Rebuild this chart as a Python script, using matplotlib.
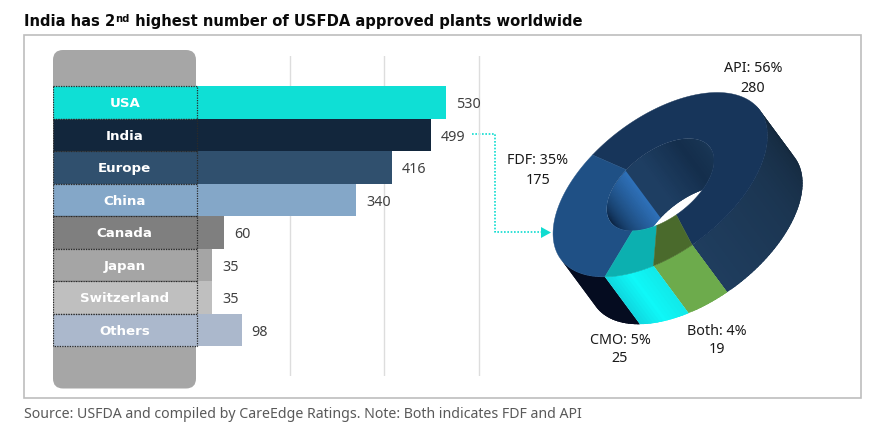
import numpy as np
import matplotlib
matplotlib.use("Agg")
import matplotlib.pyplot as plt
from matplotlib.patches import FancyBboxPatch, Polygon, Rectangle
from matplotlib.colors import to_rgb

plt.rcParams['font.family'] = ['Noto Sans', 'DejaVu Sans']
BOLD = ['DejaVu Sans']

# ---------- data ----------
categories = ["USA", "India", "Europe", "China", "Canada", "Japan", "Switzerland", "Others"]
plant_counts = [530, 499, 416, 340, 60, 35, 35, 98]
bar_colors = ["#0FDFD5", "#12263C", "#30506E", "#84A7C8", "#7F7F7F", "#A5A5A5", "#BFBFBF", "#ABB8CC"]
grid_ticks = [200, 400, 600]

pie_names = ["API", "FDF", "CMO", "Both"]
pie_shares = [56, 35, 5, 4]
pie_counts = [280, 175, 25, 19]
title_parts = ["India has 2", "nd", " highest number of USFDA approved plants worldwide"]
source_text = "Source: USFDA and compiled by CareEdge Ratings. Note: Both indicates FDF and API"

W, H = 893, 427
fig = plt.figure(figsize=(W / 100, H / 100), dpi=100, facecolor="white")

# ---------- pixel-space layer ----------
deco = fig.add_axes([0, 0, 1, 1], zorder=0)
deco.set_xlim(0, W)
deco.set_ylim(H, 0)
deco.axis("off")

deco.add_patch(Rectangle((24, 35.5), 837, 363, fc="white", ec="#BDBDBD", lw=1.2))
deco.add_patch(FancyBboxPatch((61, 59), 127, 322.5, boxstyle="round,pad=8,rounding_size=10",
                              fc="#A6A6A6", ec="none", zorder=1))

# title with a raised "nd"
fig.canvas.draw()
rend = fig.canvas.get_renderer()
x = 24
for part, size, y in zip(title_parts, [10.65, 7.2, 10.65], [26, 22, 26]):
    t = deco.text(x, y, part, fontsize=size, fontweight="bold", family=BOLD, color="#0A0A0A",
                  va="baseline", ha="left")
    x += t.get_window_extent(rend).width

deco.text(24, 418, source_text, fontsize=10.2, color="#595959", va="baseline", ha="left")

# ---------- bar chart ----------
PX_PER_UNIT = 0.4725
zero_px = 195.5
left_px, right_px = 53, 481
top_px, bottom_px = 57, 377
row_px = 32.5
bar_top_px = 87
ax = fig.add_axes([left_px / W, 1 - bottom_px / H, (right_px - left_px) / W, (bottom_px - top_px) / H], zorder=1)
ax.patch.set_visible(False)
x0 = -(zero_px - left_px) / PX_PER_UNIT
ax.set_xlim(x0, (right_px - zero_px) / PX_PER_UNIT)
ax.set_ylim(-0.5 + (bottom_px - bar_top_px) / row_px, -0.5 - (bar_top_px - top_px) / row_px)
for s in ax.spines.values():
    s.set_visible(False)
ax.set_yticks([])
ax.set_xticks(grid_ticks)
ax.tick_params(length=0, labelbottom=False)
ax.grid(axis="x", color="#DDDDDD", lw=1)
ax.set_axisbelow(True)

ypos = np.arange(len(categories))
ax.barh(ypos, plant_counts, height=1.0, color=bar_colors, zorder=2)
ax.barh(ypos, [-x0 + 3] * len(categories), left=x0, height=1.0, color=bar_colors,
        edgecolor="#2A2A2A", linewidth=0.9, linestyle=(0, (1, 1)), zorder=3)
for i, (name, val) in enumerate(zip(categories, plant_counts)):
    ax.text(x0 / 2 + 1, i + 0.02, name, color="white", fontweight="bold", family=BOLD, fontsize=9.6,
            ha="center", va="center", zorder=4)
    ax.text(val + 21, i + 0.05, str(val), color="#404040", fontsize=10.3,
            ha="left", va="center", zorder=4)

# ---------- connector ----------
conn = "#10DCD0"
deco.plot([472, 495, 495, 541], [135, 135, 233, 233], color=conn, lw=1.2, ls=(0, (1, 1)))
deco.add_patch(Polygon([[541, 228], [551, 233.5], [541, 239]], fc=conn, ec="none"))

# ---------- extruded ring ----------
cx, cy, a, b = 660.3, 185.7, 124.3, 67.5
phi = np.radians(37)
dx, dy = 35, 47.3
hole = 0.5


def rim(t_deg, scale=1.0):
    t = np.radians(t_deg)
    xu = a * np.cos(t) * np.cos(phi) - b * np.sin(t) * np.sin(phi)
    yu = a * np.cos(t) * np.sin(phi) + b * np.sin(t) * np.cos(phi)
    return np.column_stack([cx + scale * xu, cy - scale * yu])


# screen angles of the slice boundaries (the source chart has a perspective squeeze)
start = 265.0
cum = np.cumsum([0] + pie_counts) / sum(pie_counts) * 360
squeeze = np.interp(cum, [0, 201.6, 327.6, 360], [0, 0, -17, 0])
edges = start + cum + squeeze

face_cols = ["#17355A", "#1F5085", "#0CB0B0", "#4A6A2C"]
wall_cols = {
    0: [(0.0, "#1F3D5E"), (0.5, "#1B3551"), (1.0, "#14283C")],
    1: [(0.0, "#050C20"), (1.0, "#0E1F3C")],
    2: [(0.0, "#0FD8E0"), (0.5, "#0FF8F8"), (1.0, "#12E8E8")],
    3: [(0.0, "#6DAB4C"), (1.0, "#6DAB4C")],
}


def mix(stops, f):
    xs = [s[0] for s in stops]
    rgb = np.array([to_rgb(s[1]) for s in stops])
    return tuple(np.interp(f, xs, rgb[:, k]) for k in range(3))


Z = 5
# outer wall: lower-right half of the rim only; overlapping strips hide the seams
for i in [1, 0, 3, 2]:
    lo, hi = edges[i], edges[i + 1]
    for tt0 in np.arange(lo, hi, 2.0):
        tt1 = min(tt0 + 5.0, hi)
        m = tt0 % 360
        if not 178 <= m <= 362 and not m < 2:
            continue
        if i == 0:
            f = 1.0 if m < 2 else min((tt0 - lo) / 95, 1.0)
        elif i == 1:
            f = 0.0
        else:
            f = (tt0 - lo) / (hi - lo)
        p = rim(np.linspace(tt0, tt1, 5))
        poly = np.vstack([p, (p + [dx, dy])[::-1]])
        deco.add_patch(Polygon(poly, fc=mix(wall_cols[i], f), ec="none", zorder=Z))

# inner wall visible inside the hole (upper-left half of the bore)
bore = Polygon(rim(np.linspace(0, 360, 241), hole), closed=True, transform=deco.transData)
inner_stops = [(0, "#1B3958"), (50, "#142E4C"), (90, "#1E3E62"), (107, "#1E3E62"),
               (108, "#2E70B8"), (135, "#1F5085"), (165, "#0E2A4C"), (182, "#050E20")]
xs = [s[0] for s in inner_stops]
rgb = np.array([to_rgb(s[1]) for s in inner_stops])
for tt0 in np.arange(-2, 182, 2.0):
    p = rim(np.linspace(tt0, min(tt0 + 5.0, 184), 5), hole)
    poly = np.vstack([p, (p + [dx, dy])[::-1]])
    c = tuple(np.interp(tt0, xs, rgb[:, k]) for k in range(3))
    pg = Polygon(poly, fc=c, ec="none", zorder=Z + 1)
    deco.add_patch(pg)
    pg.set_clip_path(bore)

# front face, one annular sector per slice
for i in range(4):
    ts = np.linspace(edges[i], edges[i + 1], 120)
    poly = np.vstack([rim(ts), rim(ts[::-1], hole)])
    deco.add_patch(Polygon(poly, fc=face_cols[i], ec=face_cols[i], lw=0.3, zorder=Z + 2))

# slice labels
label_xy = {"API": (753, 69, 88), "FDF": (538, 161, 181), "CMO": (620, 341, 359), "Both": (717, 332, 350)}
for name, share, count in zip(pie_names, pie_shares, pie_counts):
    lx, y1, y2 = label_xy[name]
    deco.text(lx, y1, f"{name}: {share}%", fontsize=10.3, color="#1A1A1A", ha="center", va="center", zorder=Z + 3)
    deco.text(lx, y2, str(count), fontsize=10.3, color="#1A1A1A", ha="center", va="center", zorder=Z + 3)

fig.savefig("out.png", dpi=100, facecolor="white")
